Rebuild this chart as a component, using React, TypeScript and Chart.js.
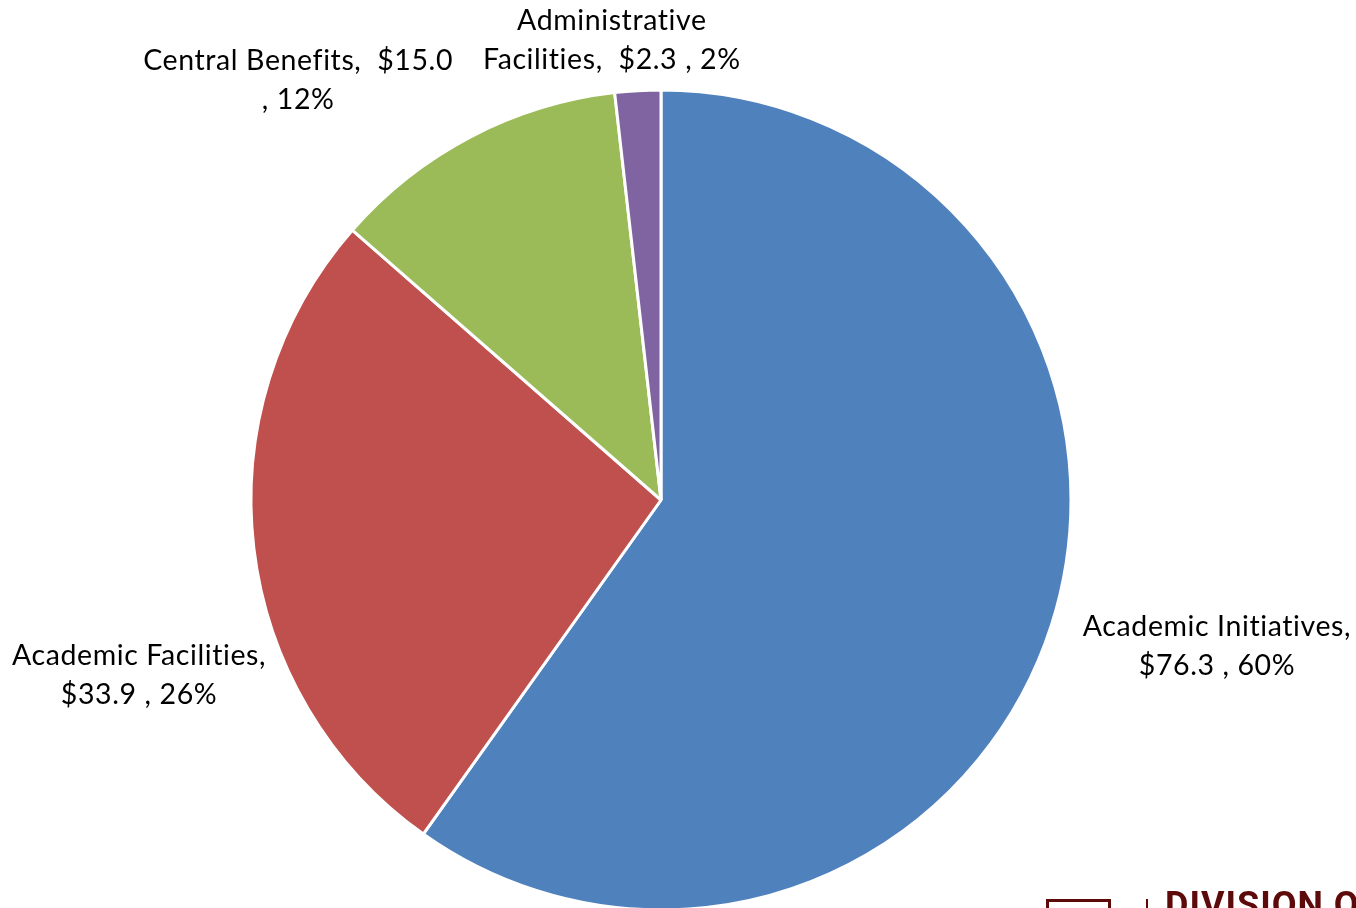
import React, { useEffect, useRef } from "react";
import { Chart, registerables } from "chart.js";

Chart.register(...registerables);

const categories = [
  "Academic Initiatives",
  "Academic Facilities",
  "Central Benefits",
  "Administrative Facilities",
];
const amounts = [76.3, 33.9, 15.0, 2.3];
const percentLabels = ["60%", "26%", "12%", "2%"];
const amountLabels = ["$76.3", "$33.9", "$15.0", "$2.3"];
const labelLines = [
  ["Academic Initiatives,", "$76.3 , 60%"],
  ["Academic Facilities,", "$33.9 , 26%"],
  ["Central Benefits,  $15.0", ", 12%"],
  ["Administrative", "Facilities,  $2.3 , 2%"],
];

const colors = ["#4F81BD", "#C0504D", "#9BBB59", "#8064A2"];
// label anchor offsets relative to pie center, in units of radius
const labelOffsets = [
  [1.356, 0.358],
  [-1.273, 0.427],
  [-0.885, -1.024],
  [-0.12, -1.12],
];
const FONT = "28.5px Lato, 'Open Sans', sans-serif";
const LINE_H = 39;

const labelPlugin = {
  id: "outerLabels",
  afterDraw(chart: any) {
    const ctx = chart.ctx;
    const meta = chart.getDatasetMeta(0);
    ctx.save();
    ctx.font = FONT;
    try {
      (ctx as any).letterSpacing = "0.6px";
    } catch (e) {}
    ctx.fillStyle = "#000";
    ctx.textAlign = "center";
    ctx.textBaseline = "middle";
    meta.data.forEach((arc: any, i: number) => {
      const r = arc.outerRadius;
      const cx = arc.x + labelOffsets[i][0] * r;
      const cy = arc.y + labelOffsets[i][1] * r;
      const lines = labelLines[i];
      lines.forEach((t, j) => {
        ctx.fillText(t, cx, cy + (j - (lines.length - 1) / 2) * LINE_H);
      });
    });
    ctx.restore();
  },
};

export default function App() {
  const ref = useRef<HTMLCanvasElement | null>(null);
  useEffect(() => {
    document.body.style.margin = "0";
    if (!ref.current) return;
    const chart = new Chart(ref.current, {
      type: "pie",
      data: {
        labels: categories,
        datasets: [
          {
            data: amounts,
            backgroundColor: colors,
            borderColor: "#FFFFFF",
            borderWidth: 3,
          },
        ],
      },
      options: {
        responsive: false,
        animation: false,
        radius: 410,
        layout: { padding: { top: 90, bottom: 90, left: 251, right: 285 } },
        plugins: {
          legend: { display: false },
          tooltip: { enabled: false },
        },
      } as any,
      plugins: [labelPlugin],
    });
    return () => chart.destroy();
  }, []);

  return (
    <div
      style={{
        position: "absolute",
        left: 0,
        top: 0,
        width: 1356,
        height: 908,
        overflow: "hidden",
        background: "#fff",
      }}
    >
      <canvas ref={ref} width={1356} height={1000} style={{ display: "block" }} />
      <div
        style={{
          position: "absolute",
          left: 1046,
          top: 899,
          width: 65,
          height: 20,
          border: "3px solid #5C0A0A",
          boxSizing: "border-box",
        }}
      />
      <div
        style={{
          position: "absolute",
          left: 1146,
          top: 899,
          width: 2,
          height: 20,
          background: "#5C0A0A",
        }}
      />
      <div
        style={{
          position: "absolute",
          left: 1165,
          top: 884,
          font: "bold 36px Roboto, 'Liberation Sans', sans-serif",
          color: "#5C0A0A",
          whiteSpace: "nowrap",
          letterSpacing: 1,
        }}
      >
        DIVISION OF
      </div>
    </div>
  );
}
